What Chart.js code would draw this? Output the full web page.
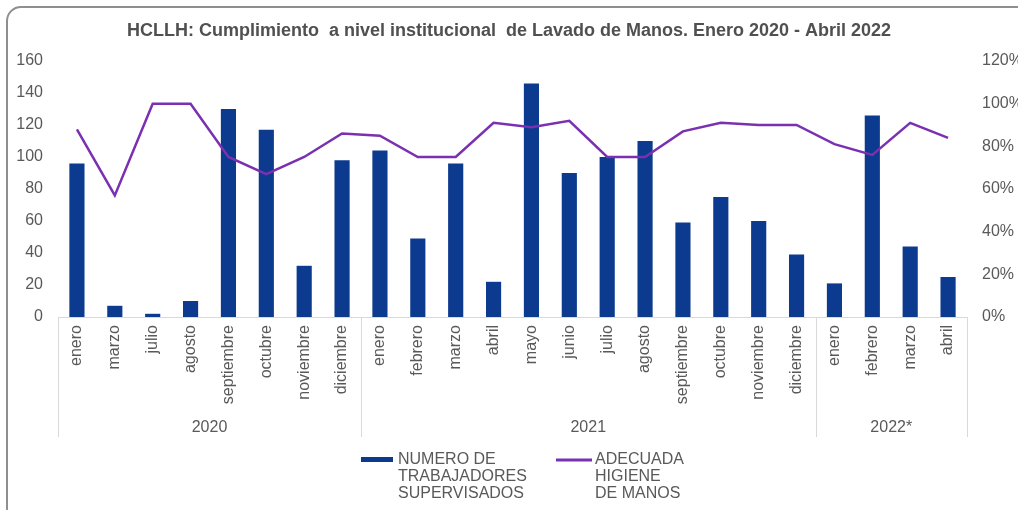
<!DOCTYPE html>
<html>
<head>
<meta charset="utf-8">
<script src="https://cdn.jsdelivr.net/npm/chart.js@4/dist/chart.umd.min.js"></script>
<style>
  html, body { margin: 0; padding: 0; background: #ffffff; }
  #wrap { width: 1018px; height: 510px; }
</style>
</head>
<body>
<div id="wrap"><canvas id="c" width="1018" height="510"></canvas></div>
<script>
// ---- Data ----
const months = ['enero','marzo','julio','agosto','septiembre','octubre','noviembre','diciembre',
  'enero','febrero','marzo','abril','mayo','junio','julio','agosto','septiembre','octubre','noviembre','diciembre',
  'enero','febrero','marzo','abril'];
const yearLabels = ['2020', '2021', '2022*'];
const yearCounts = [8, 12, 4];
const trabajadores = [96, 7, 2, 10, 130, 117, 32, 98,
  104, 49, 96, 22, 146, 90, 100, 110, 59, 75, 60, 39,
  21, 126, 44, 25];
const higiene = [88, 57, 100, 100, 75, 67, 75, 86,
  85, 75, 75, 91, 89, 92, 75, 75, 87, 91, 90, 90,
  81, 76, 91, 84];
const legendBar = ['NUMERO DE', 'TRABAJADORES', 'SUPERVISADOS'];
const legendLine = ['ADECUADA', 'HIGIENE', 'DE MANOS'];
const titleText = 'HCLLH: Cumplimiento  a nivel institucional  de Lavado de Manos. Enero 2020 - Abril 2022';

const BAR_COLOR = '#0b3a8e';
const LINE_COLOR = '#7a30b0';
const TEXT_COLOR = '#595959';
const FONT = '"Liberation Sans", Arial, sans-serif';

const framePlugin = {
  id: 'frame',
  beforeDraw(chart) {
    const ctx = chart.ctx;
    ctx.save();
    ctx.fillStyle = '#ffffff';
    ctx.fillRect(0, 0, chart.width, chart.height);
    ctx.strokeStyle = '#8f8f8f';
    ctx.lineWidth = 2;
    ctx.beginPath();
    ctx.roundRect(7, 7, 1100, 515, 14);
    ctx.stroke();
    ctx.restore();
  }
};

const groupPlugin = {
  id: 'groups',
  afterDraw(chart) {
    const ctx = chart.ctx;
    const xs = chart.scales.x;
    const top = chart.chartArea.bottom;
    const bottom = 437;
    ctx.save();
    ctx.strokeStyle = '#d9d9d9';
    ctx.lineWidth = 1;
    ctx.fillStyle = TEXT_COLOR;
    ctx.font = '16px ' + FONT;
    ctx.textAlign = 'center';
    ctx.textBaseline = 'middle';
    let start = 0;
    const edges = [xs.getPixelForValue(-0.5)];
    yearCounts.forEach((n, i) => {
      const l = xs.getPixelForValue(start - 0.5);
      const r = xs.getPixelForValue(start + n - 0.5);
      edges.push(r);
      ctx.fillText(yearLabels[i], (l + r) / 2, 428);
      start += n;
    });
    edges.forEach(x => {
      const px = Math.round(x) + 0.5;
      ctx.beginPath();
      ctx.moveTo(px, top);
      ctx.lineTo(px, bottom);
      ctx.stroke();
    });
    // Legend
    ctx.textAlign = 'left';
    ctx.font = '16px ' + FONT;
    ctx.fillStyle = BAR_COLOR;
    ctx.fillRect(361, 457, 32, 5);
    ctx.fillStyle = TEXT_COLOR;
    legendBar.forEach((t, i) => ctx.fillText(t, 398, 460 + i * 17));
    ctx.strokeStyle = LINE_COLOR;
    ctx.lineWidth = 3;
    ctx.beginPath();
    ctx.moveTo(556, 460);
    ctx.lineTo(592, 460);
    ctx.stroke();
    legendLine.forEach((t, i) => ctx.fillText(t, 595, 460 + i * 17));
    ctx.restore();
  }
};

new Chart(document.getElementById('c'), {
  data: {
    labels: months,
    datasets: [
      {
        type: 'line',
        label: legendLine.join(' '),
        data: higiene,
        yAxisID: 'y1',
        borderColor: LINE_COLOR,
        backgroundColor: LINE_COLOR,
        borderWidth: 2.5,
        pointRadius: 0,
        tension: 0,
        order: 0
      },
      {
        type: 'bar',
        label: legendBar.join(' '),
        data: trabajadores,
        yAxisID: 'y',
        backgroundColor: BAR_COLOR,
        borderWidth: 0,
        categoryPercentage: 1,
        barPercentage: 0.4,
        order: 1
      }
    ]
  },
  options: {
    responsive: false,
    animation: false,
    devicePixelRatio: 1,
    layout: { padding: { left: 0, right: 0, top: 0, bottom: 0 } },
    plugins: {
      legend: { display: false },
      tooltip: { enabled: false },
      title: {
        display: true,
        text: titleText,
        color: '#505050',
        font: { family: FONT, size: 18, weight: 'bold', lineHeight: 1.2 },
        padding: { top: 20, bottom: 19.4 }
      }
    },
    scales: {
      x: {
        type: 'category',
        grid: { display: false, drawTicks: false },
        border: { display: true, color: '#d9d9d9', width: 1 },
        ticks: {
          autoSkip: false,
          minRotation: 90,
          maxRotation: 90,
          padding: 8,
          color: TEXT_COLOR,
          font: { family: FONT, size: 16 }
        },
        afterFit(s) { s.height = 193; }
      },
      y: {
        position: 'left',
        min: 0, max: 160,
        grid: { display: false, drawTicks: false },
        border: { display: false },
        ticks: { stepSize: 20, padding: 15, color: TEXT_COLOR, font: { family: FONT, size: 16 } },
        afterFit(s) { s.width = 58; }
      },
      y1: {
        position: 'right',
        min: 0, max: 120,
        grid: { display: false, drawTicks: false },
        border: { display: false },
        ticks: {
          stepSize: 20, padding: 15, color: TEXT_COLOR,
          font: { family: FONT, size: 16 },
          callback: v => v + '%'
        },
        afterFit(s) { s.width = 51; }
      }
    }
  },
  plugins: [framePlugin, groupPlugin]
});
</script>
</body>
</html>
